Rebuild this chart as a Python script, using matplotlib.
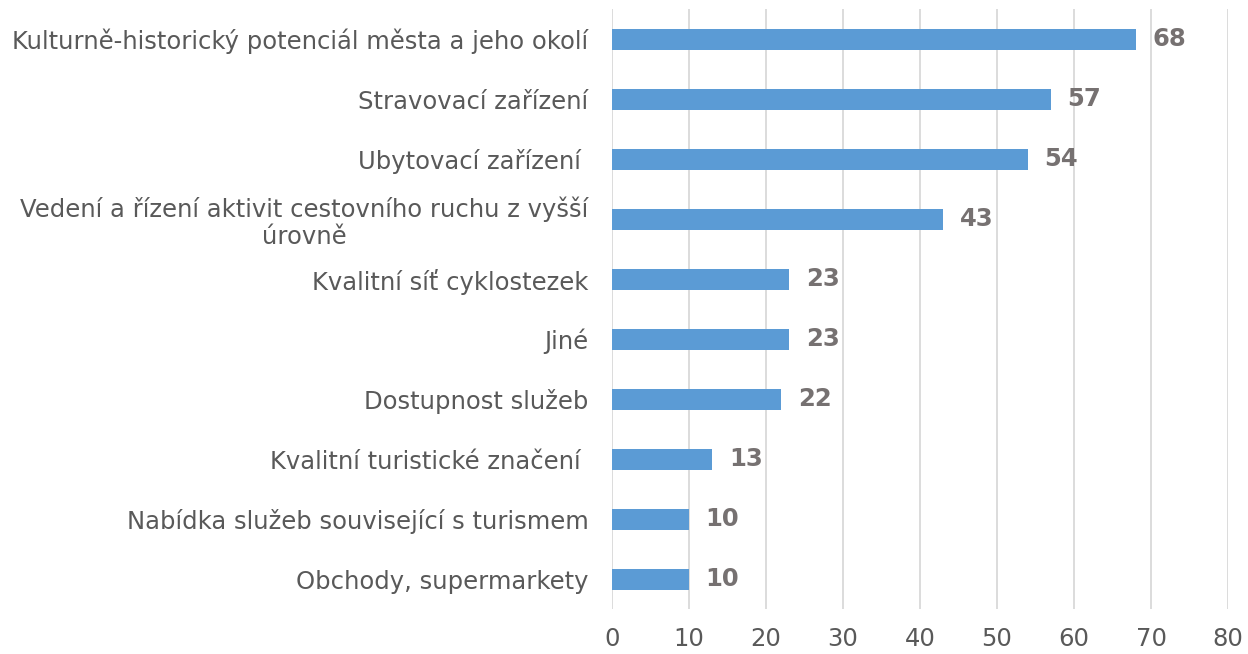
import matplotlib
matplotlib.use("Agg")
import matplotlib.pyplot as plt

categories = [
    "Kulturně-historický potenciál města a jeho okolí",
    "Stravovací zařízení",
    "Ubytovací zařízení ",
    "Vedení a řízení aktivit cestovního ruchu z vyšší\núrovně",
    "Kvalitní síť cyklostezek",
    "Jiné",
    "Dostupnost služeb",
    "Kvalitní turistické značení ",
    "Nabídka služeb související s turismem",
    "Obchody, supermarkety",
]
values = [68, 57, 54, 43, 23, 23, 22, 13, 10, 10]
x_ticks = [0, 10, 20, 30, 40, 50, 60, 70, 80]

plt.rcParams["font.family"] = ["DejaVu Sans"]

fig = plt.figure(figsize=(12.48, 6.54), dpi=100)
ax = fig.add_axes([0.4904, 0.0688, 0.4936, 0.9174])

pos = list(range(len(categories)))
ax.barh(pos, values, height=0.35, color="#5B9BD5", zorder=3)
ax.set_ylim(len(categories) - 0.5, -0.5)
ax.set_xlim(0, 80)

ax.set_xticks(x_ticks)
ax.set_xticklabels([str(t) for t in x_ticks])
ax.set_yticks(pos)
ax.set_yticklabels(categories)
for lbl in ax.get_yticklabels():
    lbl.set_multialignment("center")
    lbl.set_linespacing(1.15)

ax.tick_params(axis="x", length=0, pad=13, labelsize=17.5, labelcolor="#595959")
ax.tick_params(axis="y", length=0, pad=17, labelsize=17.5, labelcolor="#595959")

ax.grid(axis="x", color="#D9D9D9", linewidth=1.3, zorder=0)
for s in ax.spines.values():
    s.set_visible(False)

for p, v in zip(pos, values):
    ax.annotate(str(v), (v, p), xytext=(12, 0), textcoords="offset points",
                va="center", ha="left", fontsize=17.5, fontweight="bold",
                color="#767171")

fig.savefig("out.png", dpi=100)
